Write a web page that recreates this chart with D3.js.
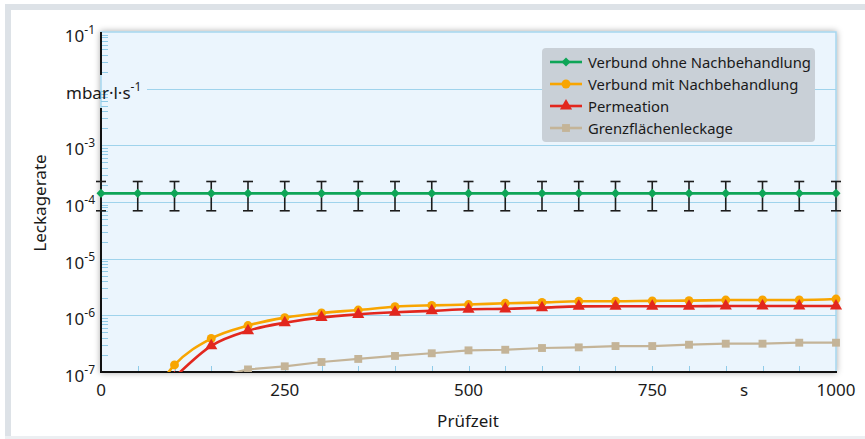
<!DOCTYPE html>
<html>
<head>
<meta charset="utf-8">
<script src="https://cdn.jsdelivr.net/npm/d3@7"></script>
<style>
  html, body { margin: 0; padding: 0; background: #fff; }
  svg { display: block; font-family: "Noto Sans", sans-serif; }
</style>
</head>
<body>
<div id="chart"></div>
<script>
// time axis, s
const times = [0, 50, 100, 150, 200, 250, 300, 350, 400, 450, 500, 550, 600, 650, 700, 750, 800, 850, 900, 950, 1000];

// Verbund ohne Nachbehandlung, with error bars
const ohneValues = times.map(() => 1.42e-4);
const ohneUpper = times.map(() => 2.3e-4);
const ohneLower = times.map(() => 7.0e-5);

const mitTimes = [50, 100, 150, 200, 250, 300, 350, 400, 450, 500, 550, 600, 650, 700, 750, 800, 850, 900, 950, 1000];
const mitValues = [1.5e-8, 1.33e-7, 3.9e-7, 6.6e-7, 9.1e-7, 1.1e-6, 1.24e-6, 1.42e-6, 1.5e-6, 1.55e-6, 1.63e-6, 1.69e-6, 1.77e-6, 1.77e-6, 1.8e-6, 1.82e-6, 1.86e-6, 1.87e-6, 1.87e-6, 1.94e-6];

const permTimes = [100, 150, 200, 250, 300, 350, 400, 450, 500, 550, 600, 650, 700, 750, 800, 850, 900, 950, 1000];
const permValues = [8e-8, 2.9e-7, 5.35e-7, 7.4e-7, 9.2e-7, 1.04e-6, 1.13e-6, 1.2e-6, 1.28e-6, 1.3e-6, 1.36e-6, 1.44e-6, 1.45e-6, 1.45e-6, 1.45e-6, 1.46e-6, 1.46e-6, 1.46e-6, 1.46e-6];

const grenzTimes = [150, 200, 250, 300, 350, 400, 450, 500, 550, 600, 650, 700, 750, 800, 850, 900, 950, 1000];
const grenzValues = [7.9e-8, 1.11e-7, 1.26e-7, 1.5e-7, 1.7e-7, 1.92e-7, 2.14e-7, 2.41e-7, 2.47e-7, 2.65e-7, 2.72e-7, 2.87e-7, 2.87e-7, 3.03e-7, 3.16e-7, 3.16e-7, 3.29e-7, 3.29e-7];

const seriesNames = ["Verbund ohne Nachbehandlung", "Verbund mit Nachbehandlung", "Permeation", "Grenzflächenleckage"];

const xTickValues = [0, 250, 500, 750, 875, 1000];
const xTickLabels = ["0", "250", "500", "750", "s", "1000"];
const yTickValues = [1e-1, 1e-2, 1e-3, 1e-4, 1e-5, 1e-6, 1e-7];
const yTickBase = ["10", "mbar·l·s", "10", "10", "10", "10", "10"];
const yTickExp = ["-1", "-1", "-3", "-4", "-5", "-6", "-7"];

(function () {
  const width = 865, height = 439;
  const left = 101, right = 836, top = 32, bottom = 372;

  const colors = ["#0ea557", "#f8a501", "#e2271e", "#c4b498"];
  const symbols = [d3.symbolDiamond2, d3.symbolCircle, d3.symbolTriangle, d3.symbolSquare];
  const symbolSizes = [52, 62, 64, 62];

  const x = d3.scaleLinear([0, 1000], [left, right]);
  const y = d3.scaleLog([1e-7, 1e-1], [bottom, top]);

  const svg = d3.select("#chart").append("svg")
    .attr("width", width)
    .attr("height", height)
    .attr("viewBox", [0, 0, width, height]);

  const defs = svg.append("defs");
  defs.append("filter")
    .attr("id", "shadow")
    .attr("x", -0.05).attr("y", -0.1).attr("width", 1.1).attr("height", 1.2)
    .append("feDropShadow")
    .attr("dx", 0).attr("dy", 0)
    .attr("stdDeviation", 3)
    .attr("flood-opacity", 0.35);
  defs.append("clipPath")
    .attr("id", "plotclip")
    .append("rect")
    .attr("x", left - 10).attr("y", 0)
    .attr("width", right - left + 25).attr("height", bottom);

  // outer frame
  svg.append("rect").attr("x", 5).attr("y", 4).attr("width", width - 5).attr("height", 6).attr("fill", "#dde2e7");
  svg.append("rect").attr("x", 5).attr("y", 4).attr("width", 6).attr("height", height - 4).attr("fill", "#dde2e7");
  svg.append("rect").attr("x", 5).attr("y", 436).attr("width", width - 5).attr("height", 3).attr("fill", "#eceff2");

  // plot background
  svg.append("rect")
    .attr("x", left).attr("y", top)
    .attr("width", right - left).attr("height", bottom - top)
    .attr("fill", "#ebf5fd")
    .attr("stroke", "#a6d6ee")
    .attr("stroke-width", 1.5)
    .attr("filter", "url(#shadow)");

  // decade gridlines
  svg.append("g")
    .selectAll("line")
    .data(yTickValues.slice(1, -1))
    .join("line")
    .attr("x1", (d) => (d === 1e-2 ? 147 : left))
    .attr("x2", right)
    .attr("y1", (d) => Math.round(y(d)) + 0.5)
    .attr("y2", (d) => Math.round(y(d)) + 0.5)
    .attr("stroke", "#9fd3ec")
    .attr("stroke-width", 1.2);

  // minor y ticks
  const minor = [];
  for (let e = -7; e < -1; e++) for (let m = 2; m <= 9; m++) minor.push(m * Math.pow(10, e));
  svg.append("g")
    .selectAll("line")
    .data(minor)
    .join("line")
    .attr("x1", left).attr("x2", left + 7)
    .attr("y1", (d) => Math.round(y(d)) + 0.5)
    .attr("y2", (d) => Math.round(y(d)) + 0.5)
    .attr("stroke", "#8fcbe8")
    .attr("stroke-width", 1);

  // minor x ticks
  svg.append("g")
    .selectAll("line")
    .data(times.slice(1, -1))
    .join("line")
    .attr("x1", (d) => Math.round(x(d)) + 0.5)
    .attr("x2", (d) => Math.round(x(d)) + 0.5)
    .attr("y1", bottom).attr("y2", bottom - 6)
    .attr("stroke", "#8fcbe8")
    .attr("stroke-width", 1);

  // axes lines
  svg.append("line").attr("x1", left).attr("x2", right + 1).attr("y1", bottom).attr("y2", bottom)
    .attr("stroke", "#111").attr("stroke-width", 2);
  svg.append("line").attr("x1", left).attr("x2", left).attr("y1", top).attr("y2", 75)
    .attr("stroke", "#111").attr("stroke-width", 2);
  svg.append("line").attr("x1", left).attr("x2", left).attr("y1", 108).attr("y2", bottom + 1)
    .attr("stroke", "#111").attr("stroke-width", 2);

  // y tick labels
  const ylab = svg.append("g")
    .attr("font-size", 17)
    .attr("fill", "#1a1a1a")
    .selectAll("text")
    .data(yTickValues)
    .join("text")
    .attr("x", (d, i) => (i === 1 ? 66 : 95))
    .attr("y", (d) => y(d) + 10)
    .attr("text-anchor", (d, i) => (i === 1 ? "start" : "end"));
  ylab.append("tspan").text((d, i) => yTickBase[i]);
  ylab.append("tspan")
    .attr("font-size", 12)
    .attr("dy", -8)
    .text((d, i) => yTickExp[i]);

  // x tick labels
  svg.append("g")
    .attr("font-size", 17)
    .attr("fill", "#1a1a1a")
    .attr("text-anchor", "middle")
    .selectAll("text")
    .data(xTickValues)
    .join("text")
    .attr("x", (d) => x(d))
    .attr("y", 396)
    .text((d, i) => xTickLabels[i]);

  // axis titles
  svg.append("text")
    .attr("x", 468).attr("y", 427)
    .attr("text-anchor", "middle")
    .attr("font-size", 17)
    .attr("fill", "#1a1a1a")
    .text("Prüfzeit");
  svg.append("text")
    .attr("transform", "translate(46,203) rotate(-90)")
    .attr("text-anchor", "middle")
    .attr("font-size", 17)
    .attr("fill", "#1a1a1a")
    .text("Leckagerate");

  // series
  const series = [
    { t: times, v: ohneValues, curve: d3.curveLinear },
    { t: mitTimes, v: mitValues, curve: d3.curveMonotoneX },
    { t: permTimes, v: permValues, curve: d3.curveMonotoneX },
    { t: grenzTimes, v: grenzValues, curve: d3.curveLinear },
  ];

  const plot = svg.append("g").attr("clip-path", "url(#plotclip)");

  // draw bottom series first
  [3, 1, 2, 0].forEach((k) => {
    const s = series[k];
    const pts = s.t.map((t, i) => [t, s.v[i]]);
    const line = d3.line().x((d) => x(d[0])).y((d) => y(d[1])).curve(s.curve);
    plot.append("path")
      .attr("d", line(pts))
      .attr("fill", "none")
      .attr("stroke", colors[k])
      .attr("stroke-width", k === 3 ? 2.2 : 2.6);

    if (k === 0) {
      const eb = plot.append("g").attr("stroke", "#1c1c1c").attr("stroke-width", 1.6);
      eb.selectAll(".v").data(times).join("line")
        .attr("x1", (d) => x(d)).attr("x2", (d) => x(d))
        .attr("y1", (d, i) => y(ohneUpper[i])).attr("y2", (d, i) => y(ohneLower[i]));
      eb.selectAll(".u").data(times).join("line")
        .attr("x1", (d) => x(d) - 5).attr("x2", (d) => x(d) + 5)
        .attr("y1", (d, i) => y(ohneUpper[i])).attr("y2", (d, i) => y(ohneUpper[i]));
      eb.selectAll(".l").data(times).join("line")
        .attr("x1", (d) => x(d) - 5).attr("x2", (d) => x(d) + 5)
        .attr("y1", (d, i) => y(ohneLower[i])).attr("y2", (d, i) => y(ohneLower[i]));
    }

    plot.append("g")
      .selectAll("path")
      .data(pts)
      .join("path")
      .attr("transform", (d) => `translate(${x(d[0])},${y(d[1])})`)
      .attr("d", d3.symbol(symbols[k], symbolSizes[k]))
      .attr("fill", colors[k]);
  });

  // legend
  const lg = svg.append("g").attr("transform", "translate(542,48)");
  lg.append("rect")
    .attr("width", 273).attr("height", 94)
    .attr("rx", 4)
    .attr("fill", "#c9d0d7");
  const item = lg.selectAll("g")
    .data(seriesNames)
    .join("g")
    .attr("transform", (d, i) => `translate(0,${14 + i * 22})`);
  item.append("line")
    .attr("x1", 8).attr("x2", 40)
    .attr("stroke", (d, i) => colors[i])
    .attr("stroke-width", 2.6);
  item.append("path")
    .attr("transform", "translate(24,0)")
    .attr("d", (d, i) => d3.symbol(symbols[i], symbolSizes[i])())
    .attr("fill", (d, i) => colors[i]);
  item.append("text")
    .attr("x", 46).attr("y", 5.5)
    .attr("font-size", 14.8)
    .attr("fill", "#1a1a1a")
    .text((d) => d);
})();
</script>
</body>
</html>
